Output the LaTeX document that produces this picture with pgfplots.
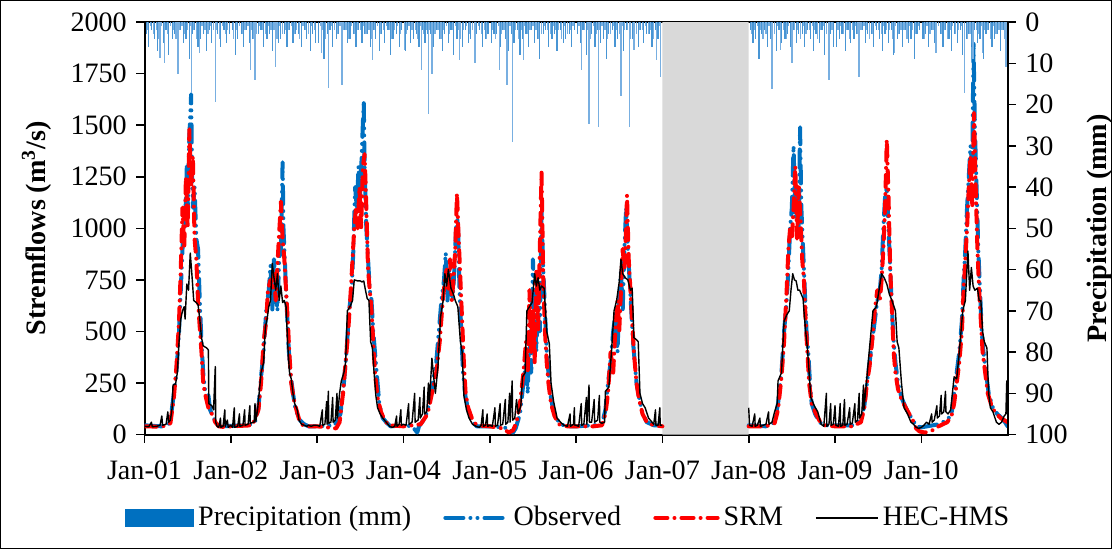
\documentclass[border=0pt]{standalone}
\usepackage{fontspec}
\setmainfont{Liberation Serif}
\usepackage{pgfplots}
\pgfplotsset{compat=1.18}
\definecolor{obsblue}{RGB}{0,112,192}
\definecolor{srmred}{RGB}{255,0,0}
\definecolor{precip}{RGB}{40,130,205}
\definecolor{precipl}{RGB}{120,175,225}
\definecolor{shade}{RGB}{217,217,217}
\begin{document}
\fontsize{14}{16}\selectfont
\begin{tikzpicture}
\pgfplotsset{
  base/.style={scale only axis, width=430pt, height=205.5pt, xmin=0, xmax=10,
    /pgf/number format/assume math mode=true, /pgf/number format/1000 sep={},
    tick align=outside, major tick length=4pt,
    tick style={black, line width=0.8pt},
    axis line style={line width=1pt},
    unbounded coords=jump},
}
\begin{axis}[base,
  ymin=0, ymax=2000, ytick={0,250,...,2000}, ytick pos=left,
  xtick={0,1,2,3,4,5,6,7,8,9}, xtick pos=bottom,
  xticklabels={Jan-01,Jan-02,Jan-03,Jan-04,Jan-05,Jan-06,Jan-07,Jan-08,Jan-09,Jan-10},
  xticklabel style={yshift=-4pt},
  ylabel={\textbf{Stremflows (m\textsuperscript{3}/s)}},
  legend style={at={(0.492,-0.202)}, anchor=center, draw=none, fill=none,
    legend columns=4, /tikz/every even column/.append style={column sep=14pt},
    font=\fontsize{14}{16}\selectfont},
  legend cell align=left,
  legend image code/.code={\draw[#1] (0pt,0pt) -- (31pt,0pt);},
]
\addlegendimage{legend image code/.code={\fill[obsblue] (0pt,-4pt) rectangle (34pt,4pt);}}
\addlegendentry{Precipitation (mm)}
\addplot[fill=shade, draw=none, forget plot] coordinates {(6,0) (6,2000) (7,2000) (7,0)} \closedcycle;
% Observed
\addplot[obsblue, line width=2pt, line cap=round, line join=round,
  dash pattern=on 9pt off 3.5pt on 0.01pt off 3.5pt on 0.01pt off 3.5pt] coordinates {
(0.00,45) (0.10,42) (0.20,40) (0.28,50) (0.31,100) (0.34,200) (0.37,300) (0.40,500) (0.42,700) (0.44,900) (0.46,1100) (0.47,1000) (0.49,1300) (0.50,1100) (0.52,1450) (0.54,1650) (0.55,1300) (0.56,1100) (0.58,1200) (0.60,950) (0.62,900) (0.64,650) (0.66,450) (0.68,300) (0.70,220) (0.72,200) (0.74,190) (0.76,120) (0.80,80) (0.84,50) (0.90,40) (1.00,42)
(1.20,45) (1.28,60) (1.32,130) (1.35,280) (1.38,400) (1.41,600) (1.44,700) (1.46,820) (1.48,600) (1.50,850) (1.52,700) (1.54,600) (1.56,850) (1.58,900) (1.60,1320) (1.61,1000) (1.63,800) (1.65,600) (1.67,420) (1.69,300) (1.72,200) (1.75,120) (1.80,70) (1.85,50) (1.90,40) (2.00,40)
(2.20,45) (2.27,100) (2.31,250) (2.34,400) (2.37,600) (2.40,700) (2.42,900) (2.44,1200) (2.46,1100) (2.48,1300) (2.50,1150) (2.52,1400) (2.54,1620) (2.55,1300) (2.57,1000) (2.59,850) (2.61,700) (2.63,650) (2.65,500) (2.67,400) (2.69,300) (2.72,150) (2.76,80) (2.80,60) (2.85,40) (3.00,45)
(3.10,40) (3.16,10) (3.18,40) (3.25,80) (3.30,150) (3.34,250) (3.38,350) (3.41,500) (3.44,650) (3.47,750) (3.49,880) (3.51,650) (3.53,800) (3.55,700) (3.57,650) (3.59,800) (3.61,1000) (3.63,1050) (3.65,700) (3.67,500) (3.69,300) (3.72,180) (3.76,100) (3.80,60) (3.85,40) (4.00,40)
(4.15,35) (4.22,30) (4.27,10) (4.30,30) (4.35,100) (4.39,250) (4.42,350) (4.44,200) (4.46,500) (4.48,300) (4.50,850) (4.52,600) (4.54,400) (4.56,700) (4.58,500) (4.60,1080) (4.62,800) (4.64,600) (4.66,400) (4.68,300) (4.70,200) (4.73,130) (4.77,80) (4.82,50) (4.90,40) (5.00,40)
(5.20,45) (5.30,50) (5.34,120) (5.37,250) (5.40,350) (5.43,500) (5.46,600) (5.48,400) (5.50,650) (5.52,800) (5.54,600) (5.56,900) (5.58,1100) (5.60,900) (5.62,750) (5.64,600) (5.66,450) (5.68,350) (5.70,250) (5.73,180) (5.77,100) (5.82,60) (5.90,45) (6.00,45)
(6.5,nan)
(7.00,45) (7.20,40) (7.30,60) (7.34,150) (7.38,300) (7.41,500) (7.44,650) (7.46,800) (7.48,1000) (7.50,1100) (7.52,1400) (7.54,1050) (7.56,1200) (7.58,1000) (7.595,1490) (7.61,1100) (7.63,900) (7.65,700) (7.67,500) (7.69,400) (7.71,250) (7.73,150) (7.77,100) (7.82,60) (7.88,45) (8.00,45)
(8.20,45) (8.30,70) (8.34,140) (8.37,250) (8.40,350) (8.43,450) (8.46,550) (8.49,650) (8.52,700) (8.54,800) (8.56,1000) (8.58,1150) (8.60,1200) (8.62,1000) (8.64,800) (8.66,600) (8.68,450) (8.70,350) (8.73,250) (8.77,180) (8.82,130) (8.86,100) (8.90,70) (8.95,40) (9.00,35)
(9.20,50) (9.30,70) (9.35,100) (9.38,200) (9.41,300) (9.44,400) (9.47,550) (9.49,750) (9.51,900) (9.53,1100) (9.55,1250) (9.57,1400) (9.59,1300) (9.605,1900) (9.62,1500) (9.64,1200) (9.66,900) (9.68,700) (9.70,500) (9.72,400) (9.75,300) (9.78,200) (9.83,130) (9.88,100) (9.93,80) (9.97,60) (10.00,40)
};
\addlegendentry{Observed}
% SRM
\addplot[srmred, line width=2pt, line cap=round, line join=round,
  dash pattern=on 6pt off 3.5pt on 0.01pt off 3.5pt] coordinates {
(0.00,40) (0.20,38) (0.30,55) (0.34,180) (0.37,330) (0.40,550) (0.42,800) (0.44,1100) (0.46,900) (0.48,1250) (0.50,1000) (0.52,1480) (0.54,1200) (0.56,1350) (0.58,950) (0.60,850) (0.62,650) (0.64,520) (0.66,400) (0.68,250) (0.70,200) (0.74,130) (0.78,100) (0.82,60) (0.86,40) (0.95,35) (1.00,40)
(1.25,45) (1.32,120) (1.35,250) (1.38,450) (1.41,550) (1.43,700) (1.46,750) (1.48,700) (1.50,780) (1.52,650) (1.55,900) (1.57,1050) (1.58,1130) (1.60,950) (1.62,850) (1.64,700) (1.66,550) (1.68,380) (1.70,250) (1.73,170) (1.76,120) (1.80,60) (1.85,40) (2.00,40)
(2.22,30) (2.26,60) (2.30,200) (2.33,350) (2.36,500) (2.39,700) (2.41,850) (2.43,1000) (2.45,1100) (2.47,1000) (2.49,1200) (2.51,1000) (2.53,1300) (2.55,1360) (2.57,1100) (2.59,800) (2.61,700) (2.63,600) (2.65,450) (2.67,300) (2.70,180) (2.74,110) (2.78,70) (2.83,45) (3.00,40)
(3.20,50) (3.28,100) (3.33,200) (3.38,300) (3.42,450) (3.45,620) (3.48,750) (3.50,800) (3.52,700) (3.54,850) (3.56,650) (3.58,750) (3.60,900) (3.62,1170) (3.64,950) (3.66,750) (3.68,550) (3.70,350) (3.72,200) (3.75,130) (3.80,70) (3.85,45) (4.00,40)
(4.15,30) (4.22,10) (4.27,20) (4.31,60) (4.35,150) (4.39,300) (4.42,450) (4.44,300) (4.46,700) (4.48,400) (4.50,600) (4.52,350) (4.54,800) (4.56,500) (4.58,900) (4.60,1270) (4.62,750) (4.64,500) (4.66,350) (4.68,250) (4.71,150) (4.75,90) (4.80,50) (4.90,40) (5.00,40)
(5.20,40) (5.30,45) (5.34,100) (5.37,200) (5.40,400) (5.43,300) (5.46,550) (5.48,650) (5.50,500) (5.52,700) (5.54,900) (5.56,800) (5.58,1000) (5.59,1160) (5.61,850) (5.63,700) (5.65,550) (5.67,400) (5.70,250) (5.73,170) (5.77,100) (5.82,60) (5.90,45) (6.00,40)
(6.5,nan)
(7.00,40) (7.20,40) (7.30,55) (7.34,120) (7.38,280) (7.41,450) (7.44,700) (7.46,900) (7.48,1000) (7.50,950) (7.52,1100) (7.54,1300) (7.56,950) (7.58,1200) (7.60,1050) (7.62,850) (7.64,750) (7.66,550) (7.68,400) (7.70,250) (7.73,150) (7.78,100) (7.83,60) (7.88,45) (8.00,40)
(8.20,40) (8.30,60) (8.34,130) (8.37,250) (8.40,330) (8.43,450) (8.46,600) (8.49,700) (8.52,650) (8.54,750) (8.56,900) (8.58,1100) (8.60,1430) (8.62,1150) (8.64,800) (8.66,600) (8.68,400) (8.70,300) (8.73,220) (8.77,170) (8.82,130) (8.86,100) (8.90,70) (8.94,30) (8.98,15) (9.04,10) (9.10,15) (9.15,25) (9.20,40)
(9.30,60) (9.35,90) (9.38,150) (9.41,250) (9.44,350) (9.47,500) (9.49,700) (9.51,850) (9.53,1000) (9.55,1200) (9.57,1350) (9.59,1100) (9.61,1560) (9.63,1200) (9.65,900) (9.67,700) (9.69,550) (9.71,400) (9.74,300) (9.77,200) (9.82,130) (9.87,100) (9.92,80) (9.96,70) (10.00,60)
};
\addlegendentry{SRM}
% HEC-HMS
\addplot[black, line width=0.7pt, line join=round] coordinates {
(0.00,40) (0.05,38) (0.08,60) (0.09,38) (0.14,40) (0.18,45) (0.20,90) (0.21,45) (0.25,50) (0.27,110) (0.28,60) (0.30,70) (0.32,130) (0.33,240) (0.36,245) (0.38,300) (0.40,450) (0.42,560) (0.44,600) (0.46,620) (0.47,560) (0.49,730) (0.51,700) (0.53,880) (0.55,770) (0.57,650) (0.60,640) (0.62,630) (0.64,560) (0.66,470) (0.68,430) (0.72,420) (0.74,410) (0.745,150) (0.78,140) (0.80,120) (0.82,330) (0.825,60) (0.84,40) (0.86,35) (0.88,80) (0.885,35) (0.91,40) (0.93,120) (0.935,40) (0.96,70) (0.97,35) (1.00,45)
(1.02,35) (1.04,130) (1.045,35) (1.08,40) (1.10,100) (1.105,40) (1.14,45) (1.16,120) (1.165,45) (1.20,50) (1.22,140) (1.225,55) (1.27,60) (1.28,150) (1.29,65) (1.31,120) (1.33,210) (1.35,300) (1.38,350) (1.40,520) (1.42,560) (1.44,620) (1.46,650) (1.48,830) (1.50,760) (1.52,700) (1.54,780) (1.56,650) (1.58,720) (1.60,640) (1.62,650) (1.64,620) (1.66,430) (1.68,300) (1.70,270) (1.72,200) (1.74,150) (1.77,120) (1.79,70) (1.82,50) (1.85,45) (1.88,40) (1.90,45) (1.93,40) (1.96,45) (2.00,45)
(2.03,40) (2.06,120) (2.065,45) (2.09,50) (2.11,160) (2.115,50) (2.13,210) (2.135,55) (2.16,60) (2.18,180) (2.185,60) (2.21,70) (2.23,200) (2.235,80) (2.26,200) (2.28,260) (2.31,300) (2.33,350) (2.35,600) (2.38,620) (2.41,650) (2.43,750) (2.47,745) (2.50,745) (2.52,740) (2.54,745) (2.56,700) (2.58,660) (2.60,650) (2.62,450) (2.64,420) (2.66,300) (2.68,190) (2.70,130) (2.73,100) (2.76,80) (2.80,60) (2.84,40) (2.87,35) (2.90,40) (2.92,90) (2.925,40) (2.95,50) (2.97,120) (2.975,45) (3.00,50)
(3.03,45) (3.06,150) (3.065,50) (3.10,60) (3.13,200) (3.135,60) (3.17,70) (3.19,180) (3.195,80) (3.22,100) (3.24,230) (3.245,100) (3.27,110) (3.29,250) (3.30,150) (3.33,370) (3.35,280) (3.37,200) (3.40,330) (3.43,570) (3.46,650) (3.48,780) (3.50,720) (3.52,800) (3.55,710) (3.58,680) (3.60,650) (3.63,620) (3.66,450) (3.68,400) (3.70,190) (3.73,120) (3.76,80) (3.80,50) (3.84,40) (3.88,35) (3.90,45) (3.92,120) (3.925,40) (3.95,45) (3.97,100) (3.975,40) (4.00,45)
(4.03,40) (4.06,130) (4.065,40) (4.09,45) (4.12,150) (4.125,45) (4.15,50) (4.18,170) (4.185,50) (4.21,60) (4.23,200) (4.235,60) (4.26,260) (4.265,70) (4.29,80) (4.31,170) (4.33,100) (4.36,140) (4.38,280) (4.41,300) (4.43,600) (4.46,620) (4.49,640) (4.52,780) (4.54,720) (4.56,760) (4.58,700) (4.60,720) (4.63,710) (4.66,500) (4.69,440) (4.71,250) (4.74,160) (4.78,80) (4.82,60) (4.86,45) (4.90,40) (4.93,100) (4.935,40) (4.97,50) (4.98,130) (4.985,45) (5.00,45)
(5.03,40) (5.06,150) (5.065,45) (5.09,50) (5.12,180) (5.125,50) (5.15,240) (5.155,60) (5.18,60) (5.21,170) (5.215,60) (5.25,70) (5.27,190) (5.275,60) (5.30,55) (5.33,60) (5.34,210) (5.38,230) (5.41,400) (5.44,600) (5.47,650) (5.50,740) (5.52,850) (5.54,780) (5.57,760) (5.60,750) (5.63,700) (5.65,710) (5.67,470) (5.70,460) (5.72,450) (5.74,200) (5.77,150) (5.80,130) (5.84,80) (5.88,60) (5.90,50) (5.92,120) (5.925,45) (5.95,45) (5.97,130) (5.975,45) (6.00,45)
(6.5,nan)
(7.00,130) (7.01,45) (7.04,40) (7.07,100) (7.075,40) (7.10,45) (7.13,80) (7.135,40) (7.17,45) (7.20,50) (7.23,110) (7.235,50) (7.27,60) (7.30,110) (7.33,150) (7.34,260) (7.38,300) (7.41,550) (7.44,580) (7.47,600) (7.49,700) (7.51,780) (7.53,750) (7.55,745) (7.57,700) (7.59,700) (7.61,680) (7.63,660) (7.64,600) (7.66,500) (7.68,420) (7.70,300) (7.72,180) (7.76,140) (7.80,110) (7.84,50) (7.87,40) (7.90,200) (7.905,40) (7.93,50) (7.95,150) (7.955,45) (7.98,50) (8.00,140)
(8.01,45) (8.04,40) (8.06,150) (8.065,40) (8.09,45) (8.11,170) (8.115,45) (8.14,50) (8.17,130) (8.175,50) (8.20,55) (8.23,150) (8.235,60) (8.26,70) (8.28,200) (8.285,80) (8.31,100) (8.33,240) (8.335,120) (8.37,280) (8.40,420) (8.44,600) (8.48,620) (8.51,700) (8.54,780) (8.57,760) (8.60,730) (8.63,680) (8.66,650) (8.70,600) (8.72,450) (8.74,420) (8.77,250) (8.80,130) (8.84,100) (8.88,60) (8.91,50) (8.94,35) (8.97,30) (9.00,35)
(9.03,45) (9.06,60) (9.09,50) (9.12,100) (9.125,60) (9.15,70) (9.18,140) (9.185,80) (9.21,90) (9.23,190) (9.235,100) (9.26,110) (9.28,210) (9.285,110) (9.31,100) (9.34,120) (9.38,280) (9.41,270) (9.44,400) (9.48,600) (9.51,650) (9.54,890) (9.56,700) (9.58,810) (9.60,720) (9.62,700) (9.65,710) (9.67,650) (9.69,650) (9.71,500) (9.73,450) (9.76,420) (9.78,200) (9.80,130) (9.83,110) (9.87,60) (9.90,50) (9.93,60) (9.96,90) (9.98,100) (9.99,260) (10.00,100)
};
\addlegendentry{HEC-HMS}
\end{axis}
\begin{axis}[base,
  axis x line=none, axis y line*=right,
  ymin=0, ymax=100, y dir=reverse, ytick={0,10,...,100},
  ylabel={\textbf{Precipitation (mm)}},
]
% small daily precipitation
\addplot[ycomb, draw=precipl, line width=0.6pt] coordinates {
(0.035,2) (0.065,1) (0.10,3) (0.135,2) (0.165,4) (0.20,1) (0.235,2) (0.265,3) (0.30,1) (0.335,2) (0.365,4) (0.40,2) (0.435,1) (0.465,3) (0.50,2) (0.535,1) (0.565,2) (0.60,4) (0.635,3) (0.665,1) (0.70,2) (0.735,3) (0.765,1) (0.80,2) (0.835,2) (0.865,4) (0.90,1) (0.935,3) (0.965,2)
(1.035,4) (1.065,2) (1.10,1) (1.135,3) (1.165,2) (1.20,1) (1.235,2) (1.265,4) (1.30,3) (1.335,1) (1.365,2) (1.40,3) (1.435,1) (1.465,2) (1.50,2) (1.535,4) (1.565,1) (1.60,3) (1.635,2) (1.665,2) (1.70,1) (1.735,3) (1.765,2) (1.80,4) (1.835,1) (1.865,2) (1.90,3) (1.935,1) (1.965,2)
(2.035,1) (2.065,2) (2.10,4) (2.135,3) (2.165,1) (2.20,2) (2.235,3) (2.265,1) (2.30,2) (2.335,2) (2.365,4) (2.40,1) (2.435,3) (2.465,2) (2.50,2) (2.535,1) (2.565,3) (2.60,2) (2.635,4) (2.665,2) (2.70,1) (2.735,3) (2.765,2) (2.80,1) (2.835,2) (2.865,4) (2.90,2) (2.935,1) (2.965,3)
(3.035,3) (3.065,1) (3.10,2) (3.135,2) (3.165,4) (3.20,1) (3.235,3) (3.265,2) (3.30,2) (3.335,1) (3.365,3) (3.40,2) (3.435,4) (3.465,2) (3.50,1) (3.535,3) (3.565,2) (3.60,1) (3.635,2) (3.665,4) (3.70,2) (3.735,1) (3.765,3) (3.80,2) (3.835,2) (3.865,1) (3.90,3) (3.935,2) (3.965,4)
(4.035,2) (4.065,4) (4.10,1) (4.135,3) (4.165,2) (4.20,2) (4.235,1) (4.265,3) (4.30,2) (4.335,4) (4.365,2) (4.40,1) (4.435,3) (4.465,2) (4.50,1) (4.535,2) (4.565,4) (4.60,3) (4.635,1) (4.665,2) (4.70,3) (4.735,1) (4.765,2) (4.80,2) (4.835,4) (4.865,1) (4.90,3) (4.935,2) (4.965,1)
(5.035,1) (5.065,3) (5.10,2) (5.135,2) (5.165,4) (5.20,1) (5.235,3) (5.265,2) (5.30,1) (5.335,2) (5.365,4) (5.40,3) (5.435,1) (5.465,2) (5.50,3) (5.535,1) (5.565,2) (5.60,2) (5.635,4) (5.665,1) (5.70,3) (5.735,2) (5.765,2) (5.80,1) (5.835,3) (5.865,2) (5.90,4) (5.935,2) (5.965,1)
(7.035,3) (7.065,2) (7.10,1) (7.135,2) (7.165,4) (7.20,3) (7.235,1) (7.265,2) (7.30,3) (7.335,1) (7.365,2) (7.40,2) (7.435,4) (7.465,1) (7.50,3) (7.535,2) (7.565,2) (7.60,4) (7.635,1) (7.665,3) (7.70,2) (7.735,1) (7.765,2) (7.80,4) (7.835,2) (7.865,1) (7.90,3) (7.935,2) (7.965,2)
(8.035,2) (8.065,1) (8.10,3) (8.135,2) (8.165,4) (8.20,2) (8.235,1) (8.265,3) (8.30,2) (8.335,1) (8.365,2) (8.40,4) (8.435,3) (8.465,1) (8.50,2) (8.535,3) (8.565,1) (8.60,2) (8.635,2) (8.665,4) (8.70,1) (8.735,3) (8.765,2) (8.80,2) (8.835,4) (8.865,1) (8.90,2) (8.935,3) (8.965,1)
(9.035,4) (9.065,1) (9.10,3) (9.135,2) (9.165,2) (9.20,1) (9.235,3) (9.265,2) (9.30,4) (9.335,2) (9.365,1) (9.40,3) (9.435,2) (9.465,1) (9.50,2) (9.535,4) (9.565,3) (9.60,1) (9.635,2) (9.665,3) (9.70,1) (9.735,2) (9.765,2) (9.80,4) (9.835,1) (9.865,3) (9.90,2) (9.935,2) (9.965,4)
};
% main precipitation bars
\addplot[ycomb, draw=precip, line width=0.6pt, opacity=0.85] coordinates {
(0.02,3) (0.05,6) (0.08,2) (0.12,4) (0.15,7) (0.18,3) (0.22,5) (0.25,2) (0.28,8) (0.32,4) (0.35,3) (0.38,6) (0.42,2) (0.45,5) (0.48,4) (0.52,9) (0.55,3) (0.58,2) (0.62,6) (0.65,4) (0.68,3) (0.72,7) (0.75,2) (0.78,5) (0.82,4) (0.85,3) (0.88,6) (0.92,2) (0.95,5) (0.98,3)
(1.02,2) (1.05,8) (1.08,4) (1.12,3) (1.15,6) (1.18,2) (1.22,5) (1.25,4) (1.28,9) (1.32,3) (1.35,2) (1.38,6) (1.42,4) (1.45,3) (1.48,7) (1.52,2) (1.55,5) (1.58,4) (1.62,3) (1.65,6) (1.68,2) (1.72,5) (1.75,3) (1.78,3) (1.82,6) (1.85,2) (1.88,4) (1.92,7) (1.95,3) (1.98,5)
(2.02,5) (2.05,4) (2.08,9) (2.12,3) (2.15,2) (2.18,6) (2.22,4) (2.25,3) (2.28,7) (2.32,2) (2.35,5) (2.38,4) (2.42,3) (2.45,6) (2.48,2) (2.52,5) (2.55,3) (2.58,3) (2.62,6) (2.65,2) (2.68,4) (2.72,7) (2.75,3) (2.78,5) (2.82,2) (2.85,8) (2.88,4) (2.92,3) (2.95,6) (2.98,2)
(3.02,7) (3.05,2) (3.08,5) (3.12,4) (3.15,3) (3.18,6) (3.22,2) (3.25,5) (3.28,3) (3.32,3) (3.35,6) (3.38,2) (3.42,4) (3.45,7) (3.48,3) (3.52,5) (3.55,2) (3.58,8) (3.62,4) (3.65,3) (3.68,6) (3.72,2) (3.75,5) (3.78,4) (3.82,9) (3.85,3) (3.88,2) (3.92,6) (3.95,4) (3.98,3)
(4.02,5) (4.05,3) (4.08,3) (4.12,6) (4.15,2) (4.18,4) (4.22,7) (4.25,3) (4.28,5) (4.32,2) (4.35,8) (4.38,4) (4.42,3) (4.45,6) (4.48,2) (4.52,5) (4.55,4) (4.58,9) (4.62,3) (4.65,2) (4.68,6) (4.72,4) (4.75,3) (4.78,7) (4.82,2) (4.85,5) (4.88,4) (4.92,3) (4.95,6) (4.98,2)
(5.02,3) (5.05,5) (5.08,2) (5.12,8) (5.15,4) (5.18,3) (5.22,6) (5.25,2) (5.28,5) (5.32,4) (5.35,9) (5.38,3) (5.42,2) (5.45,6) (5.48,4) (5.52,3) (5.55,7) (5.58,2) (5.62,5) (5.65,4) (5.68,3) (5.72,6) (5.75,2) (5.78,5) (5.82,3) (5.85,3) (5.88,6) (5.92,2) (5.95,4) (5.98,7)
(7.02,2) (7.05,5) (7.08,4) (7.12,9) (7.15,3) (7.18,2) (7.22,6) (7.25,4) (7.28,3) (7.32,7) (7.35,2) (7.38,5) (7.42,4) (7.45,3) (7.48,6) (7.52,2) (7.55,5) (7.58,3) (7.62,3) (7.65,6) (7.68,2) (7.72,4) (7.75,7) (7.78,3) (7.82,5) (7.85,2) (7.88,8) (7.92,4) (7.95,3) (7.98,6)
(8.02,6) (8.05,4) (8.08,3) (8.12,7) (8.15,2) (8.18,5) (8.22,4) (8.25,3) (8.28,6) (8.32,2) (8.35,5) (8.38,3) (8.42,3) (8.45,6) (8.48,2) (8.52,4) (8.55,7) (8.58,3) (8.62,5) (8.65,2) (8.68,8) (8.72,4) (8.75,3) (8.78,6) (8.82,2) (8.85,5) (8.88,4) (8.92,9) (8.95,3) (8.98,2)
(9.02,4) (9.05,3) (9.08,6) (9.12,2) (9.15,5) (9.18,3) (9.22,3) (9.25,6) (9.28,2) (9.32,4) (9.35,7) (9.38,3) (9.42,5) (9.45,2) (9.48,8) (9.52,4) (9.55,3) (9.58,6) (9.62,2) (9.65,5) (9.68,4) (9.72,9) (9.75,3) (9.78,2) (9.82,6) (9.85,4) (9.88,3) (9.92,7) (9.95,2) (9.985,5)
};
% larger precipitation events
\addplot[ycomb, draw=precipl, line width=0.7pt] coordinates {
(0.18,8.8) (0.23,10) (0.39,12.5) (0.545,17.3) (0.64,7.6) (0.82,19.4) (1.23,11.7) (1.28,14.1) (1.52,10.9) (2.05,7.6) (2.13,16.1) (2.29,15.3) (2.64,9.2) (3.01,6.8) (3.21,11.7) (3.29,22.2) (3.33,12.5) (3.65,9.2) (3.83,10) (4.11,11.7) (4.20,15.3) (4.26,29) (4.39,9.2) (5.06,11.7) (5.15,24.6) (5.26,25.5) (5.52,18) (5.62,25.5) (5.67,6.8) (5.93,9.2) (5.98,13.3) (7.27,16.2) (7.37,6.8) (7.50,10) (7.93,14) (8.28,13.3) (8.69,7.6) (9.17,7.6) (9.50,17.3) (9.60,9) (9.71,7.6) (9.98,10.9)
};
\end{axis}
\pgfresetboundingbox
\useasboundingbox (-72pt,-57pt) rectangle (482pt,216.5pt);
\draw[line width=0.6pt] (-71.7pt,-56.7pt) rectangle (481.7pt,216.2pt);
\end{tikzpicture}
\end{document}
